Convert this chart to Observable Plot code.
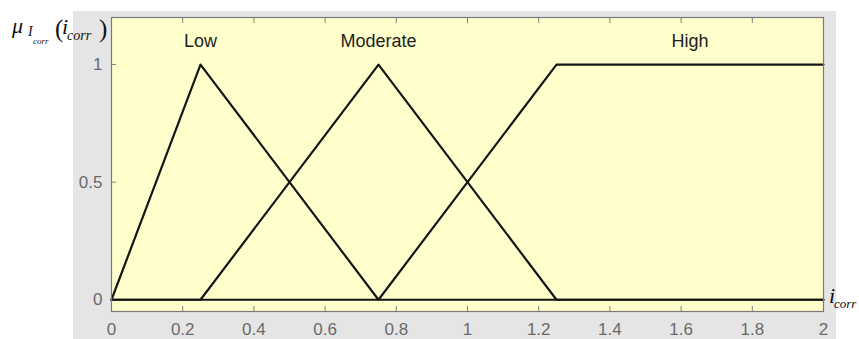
<!DOCTYPE html>
<html>
<head>
<meta charset="utf-8">
<script src="https://cdn.jsdelivr.net/npm/d3@7"></script>
<script src="https://cdn.jsdelivr.net/npm/@observablehq/plot@0.6"></script>
<style>
  html, body { margin: 0; padding: 0; background: #fff; }
  #wrap { position: relative; width: 859px; height: 339px; overflow: hidden; }
  #panel { position: absolute; left: 73px; top: 11px; width: 763px; height: 328px; background: #e5e5e5; }
  #chart { position: absolute; left: 0; top: 0; }
</style>
</head>
<body>
<div id="wrap"><div id="panel"></div><div id="chart"></div></div>
<script>
// Membership function labels
const names = ["Low", "Moderate", "High"];

// Breakpoints of each membership function over the universe [0, 2]
const lowX = [0, 0.25, 0.75, 2];
const lowY = [0, 1, 0, 0];
const moderateX = [0, 0.25, 0.75, 1.25, 2];
const moderateY = [0, 0, 1, 0, 0];
const highX = [0, 0.75, 1.25, 2];
const highY = [0, 0, 1, 1];

// Where each name is written
const labelX = [0.25, 0.75, 1.625];
const labelY = [1.1, 1.1, 1.1];

// Axis ticks
const xTicks = [0, 0.2, 0.4, 0.6, 0.8, 1, 1.2, 1.4, 1.6, 1.8, 2];
const yTicks = [0, 0.5, 1];

const seriesX = [lowX, moderateX, highX];
const seriesY = [lowY, moderateY, highY];
const points = names.flatMap((name, i) =>
  seriesX[i].map((x, j) => ({name, x, y: seriesY[i][j]}))
);

const tickFont = "Liberation Sans, Arial, Helvetica, sans-serif";

const chart = Plot.plot({
  width: 859,
  height: 339,
  marginLeft: 111,
  marginRight: 36,
  marginTop: 17,
  marginBottom: 28,
  style: {background: "transparent", fontFamily: tickFont, overflow: "visible"},
  x: {domain: [0, 2]},
  y: {domain: [-0.05, 1.2]},
  marks: [
    Plot.frame({fill: "#ffffcc", stroke: null}),
    Plot.axisX(xTicks, {anchor: "bottom", tickSize: -5, tickPadding: 16, fontSize: 17, fill: "#6a6a6a", stroke: "#808080", label: null, tickFormat: d => String(d)}),
    Plot.axisX(xTicks, {anchor: "top", tickSize: -5, tickFormat: () => "", stroke: "#808080", label: null}),
    Plot.axisY(yTicks, {anchor: "left", tickSize: -5, tickPadding: 14, fontSize: 17, fill: "#6a6a6a", stroke: "#808080", label: null, tickFormat: d => String(d)}),
    Plot.line(points, {x: "x", y: "y", z: "name", stroke: "#151515", strokeWidth: 2.2}),
    Plot.text(names, {x: (d, i) => labelX[i], y: (d, i) => labelY[i], text: d => d, fontSize: 18, fill: "#1e1e1e"}),
    Plot.frame({stroke: "#7a7a7a", strokeWidth: 1.2})
  ]
});

document.getElementById("chart").appendChild(chart);

// Axis titles set in an italic serif face, with subscripts
const svg = d3.select(chart);
const serif = "'Liberation Serif', 'Times New Roman', serif";
function put(x, y, str, size, italic) {
  svg.append("text")
    .attr("x", x).attr("y", y)
    .attr("text-anchor", "start")
    .style("font-family", serif)
    .style("font-size", size + "px")
    .style("font-style", italic ? "italic" : "normal")
    .style("fill", "#111")
    .text(str);
}
// μ_{I_corr}(i_corr)
put(12, 33, "μ", 22, true);
put(28, 36, "I", 14, true);
put(33, 44, "corr", 9, true);
put(55, 37, "(", 25, false);
put(62, 34, "i", 22, true);
put(67, 40, "corr", 14, true);
put(99, 37, ")", 25, false);
// i_corr
put(829, 303, "i", 22, true);
put(834, 308, "corr", 13, true);
</script>
</body>
</html>
